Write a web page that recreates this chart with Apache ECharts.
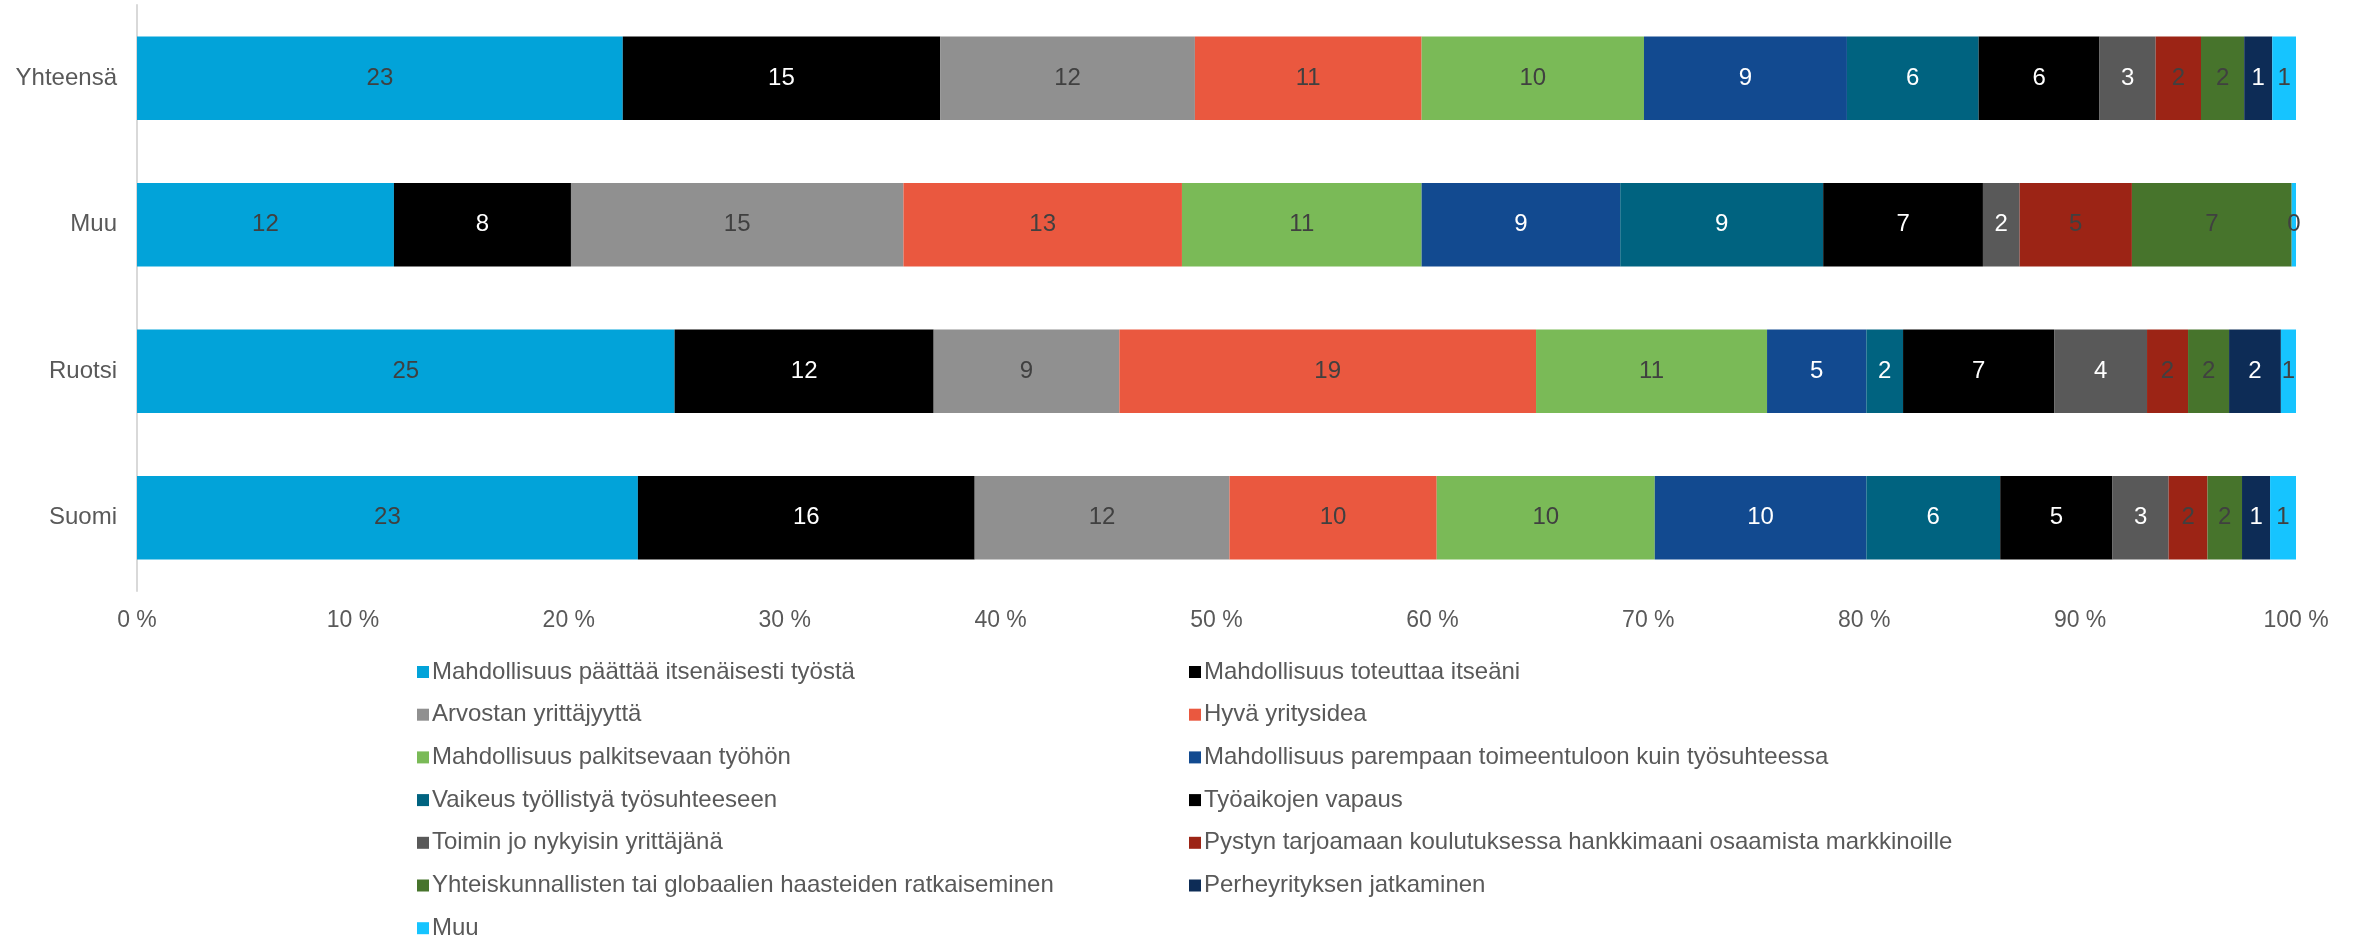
<!DOCTYPE html>
<html>
<head>
<meta charset="utf-8">
<script src="https://cdn.jsdelivr.net/npm/echarts@6/dist/echarts.min.js"></script>
<style>
  html, body { margin: 0; padding: 0; background: #ffffff; }
  #chart { width: 2361px; height: 940px; }
</style>
</head>
<body>
<div id="chart"></div>
<script>
// Groups shown on the vertical axis (top to bottom)
const categories = ['Yhteensä', 'Muu', 'Ruotsi', 'Suomi'];

// Reasons, in stacking order
const seriesNames = [
  'Mahdollisuus päättää itsenäisesti työstä',
  'Mahdollisuus toteuttaa itseäni',
  'Arvostan yrittäjyyttä',
  'Hyvä yritysidea',
  'Mahdollisuus palkitsevaan työhön',
  'Mahdollisuus parempaan toimeentuloon kuin työsuhteessa',
  'Vaikeus työllistyä työsuhteeseen',
  'Työaikojen vapaus',
  'Toimin jo nykyisin yrittäjänä',
  'Pystyn tarjoamaan koulutuksessa hankkimaani osaamista markkinoille',
  'Yhteiskunnallisten tai globaalien haasteiden ratkaiseminen',
  'Perheyrityksen jatkaminen',
  'Muu'
];

// Shares (%) per group, one value per reason above
const yhteensa = [22.5, 14.7, 11.8, 10.5, 10.3, 9.4, 6.1, 5.6, 2.6, 2.1, 2.0, 1.3, 1.1];
const muu      = [11.9, 8.2, 15.4, 12.9, 11.1, 9.2, 9.4, 7.4, 1.7, 5.2, 7.4, 0, 0.2];
const ruotsi   = [24.9, 12.0, 8.6, 19.3, 10.7, 4.6, 1.7, 7.0, 4.3, 1.9, 1.9, 2.4, 0.7];
const suomi    = [23.2, 15.6, 11.8, 9.6, 10.1, 9.8, 6.2, 5.2, 2.6, 1.8, 1.6, 1.3, 1.2];

// Axis tick values
const xTicks = [0, 10, 20, 30, 40, 50, 60, 70, 80, 90, 100];

const colors = [
  '#02A3D9', '#000000', '#909090', '#EA583F', '#7ABA57', '#124A90', '#006380',
  '#000000', '#595959', '#9C2415', '#47742C', '#0D2C56', '#16C4FF'
];
const labelColors = [
  '#404040', '#ffffff', '#404040', '#404040', '#404040', '#ffffff', '#ffffff',
  '#ffffff', '#ffffff', '#404040', '#404040', '#ffffff', '#404040'
];

const groups = [yhteensa, muu, ruotsi, suomi];
const FONT = '"Liberation Sans", Arial, sans-serif';

const series = seriesNames.map((name, i) => ({
  name: name,
  type: 'bar',
  stack: 'total',
  barCategoryGap: '43%',
  itemStyle: { color: colors[i] },
  label: {
    show: true,
    position: 'inside',
    color: labelColors[i],
    fontFamily: FONT,
    fontSize: 24,
    formatter: p => (p.value === 0 ? '' : String(Math.round(p.value)))
  },
  emphasis: { disabled: true },
  data: groups.map(g => g[i])
}));

// Two legend columns: even-indexed reasons on the left, odd-indexed on the right
const legendBase = {
  orient: 'vertical',
  icon: 'rect',
  itemWidth: 12,
  itemHeight: 12,
  itemGap: 18.7,
  padding: 0,
  height: 300,
  textStyle: { color: '#595959', fontSize: 24, fontFamily: FONT, lineHeight: 24, padding: [0, 0, 0, -2] },
  selectedMode: false
};

const option = {
  animation: false,
  color: colors,
  grid: { left: 137, right: 65, top: 5, height: 586, containLabel: false },
  legend: [
    Object.assign({}, legendBase, {
      left: 417, top: 660,
      data: seriesNames.filter((_, i) => i % 2 === 0)
    }),
    Object.assign({}, legendBase, {
      left: 1189, top: 660,
      data: seriesNames.filter((_, i) => i % 2 === 1)
    })
  ],
  xAxis: {
    type: 'value',
    min: xTicks[0],
    max: xTicks[xTicks.length - 1],
    interval: xTicks[1] - xTicks[0],
    axisLine: { show: false },
    axisTick: { show: false },
    splitLine: { show: false },
    axisLabel: {
      color: '#595959',
      fontSize: 23,
      fontFamily: FONT,
      margin: 18,
      formatter: v => v + ' %'
    }
  },
  yAxis: {
    type: 'category',
    inverse: true,
    data: categories,
    axisLine: { show: true, lineStyle: { color: '#D9D9D9', width: 2 } },
    axisTick: { show: false },
    axisLabel: { color: '#595959', fontSize: 24, fontFamily: FONT, margin: 20 }
  },
  series: series
};

const chart = echarts.init(document.getElementById('chart'), null, { renderer: 'canvas' });
chart.setOption(option);
</script>
</body>
</html>
